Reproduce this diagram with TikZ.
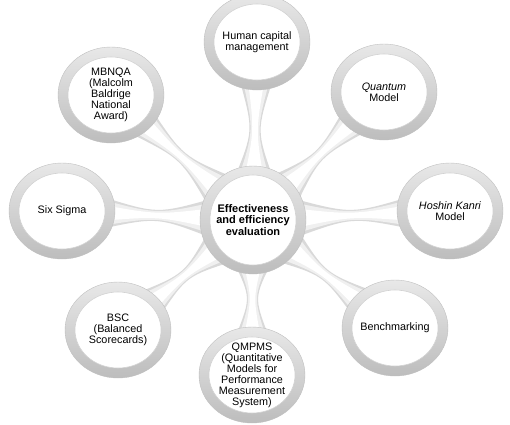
\documentclass[tikz,border=0pt]{standalone}
\usepackage{fontspec}
\setmainfont{Liberation Sans}
\usetikzlibrary{calc,shapes.geometric}
\pgfdeclarelayer{bg}
\pgfsetlayers{bg,main}
\tikzset{
  ringbase/.style={shape=ellipse, inner sep=0pt, align=center,
    top color=gray!18, bottom color=gray!52, draw=gray!50, line width=0.4pt,
    font=\fontsize{10.8}{11}\selectfont},
  outer/.style={ringbase, minimum width=106pt, minimum height=96pt,
    path picture={
      \fill[white,draw=gray!35,line width=0.6pt] (path picture bounding box.center) ellipse [x radius=43pt, y radius=38pt];}},
  hub/.style={ringbase, minimum width=106pt, minimum height=108pt,
    font=\fontsize{11}{11.5}\selectfont\bfseries,
    path picture={
      \fill[white,draw=gray!35,line width=0.6pt] (path picture bounding box.center) ellipse [x radius=43pt, y radius=45pt];}},
  spokeedge/.style={fill=gray!30},
  spokemid/.style={fill=gray!12},
  spokecore/.style={fill=white}
}
\newcommand\spokeshape[5]{% from, to, start half-width, mid half-width, end half-width
  ($(sa)!#3!90:(#2.center)$) .. controls ($(sm)!#4!90:(#2.center)$) and ($(sm)!#4!90:(#2.center)$) .. ($(sb)!#5!-90:(#1.center)$)
    -- ($(sb)!#5!90:(#1.center)$) .. controls ($(sm)!#4!-90:(#2.center)$) and ($(sm)!#4!-90:(#2.center)$) .. ($(sa)!#3!-90:(#2.center)$)
    -- cycle}
\newcommand\myspoke[2]{%
  \path ($(#1.center)!40pt!(#2.center)$) coordinate (sa)
        ($(#2.center)!40pt!(#1.center)$) coordinate (sb)
        ($(#1.center)!0.5!(#2.center)$) coordinate (sm);
  \path[spokeedge] \spokeshape{#1}{#2}{20pt}{1.5pt}{16pt};
  \path[spokemid] \spokeshape{#1}{#2}{16pt}{1.2pt}{13pt};
  \path[spokecore] \spokeshape{#1}{#2}{10pt}{0.8pt}{8pt};
}
\begin{document}
\begin{tikzpicture}[x=1pt,y=1pt]
\useasboundingbox (0,0) rectangle (510,424);
\node[hub] (c) at (253,204) {Effectiveness\\and efficiency\\evaluation};
\node[outer] (hcm) at (257,382) {Human capital\\management};
\node[outer] (mb) at (111,329) {MBNQA\\(Malcolm\\Baldrige\\National\\Award)};
\node[outer] (qu) at (384,332) {\textit{Quantum}\\Model};
\node[outer] (ss) at (62,213) {Six Sigma};
\node[outer] (hk) at (450,213) {\textit{Hoshin Kanri}\\Model};
\node[outer] (bsc) at (118,94) {BSC\\(Balanced\\Scorecards)};
\node[outer] (qm) at (252,49) {QMPMS\\(Quantitative\\Models for\\Performance\\Measurement\\System)};
\node[outer] (bm) at (395,96) {Benchmarking};
\begin{pgfonlayer}{bg}
\myspoke{c}{hcm}
\myspoke{c}{mb}
\myspoke{c}{qu}
\myspoke{c}{ss}
\myspoke{c}{hk}
\myspoke{c}{bsc}
\myspoke{c}{qm}
\myspoke{c}{bm}
\end{pgfonlayer}
\end{tikzpicture}
\end{document}
